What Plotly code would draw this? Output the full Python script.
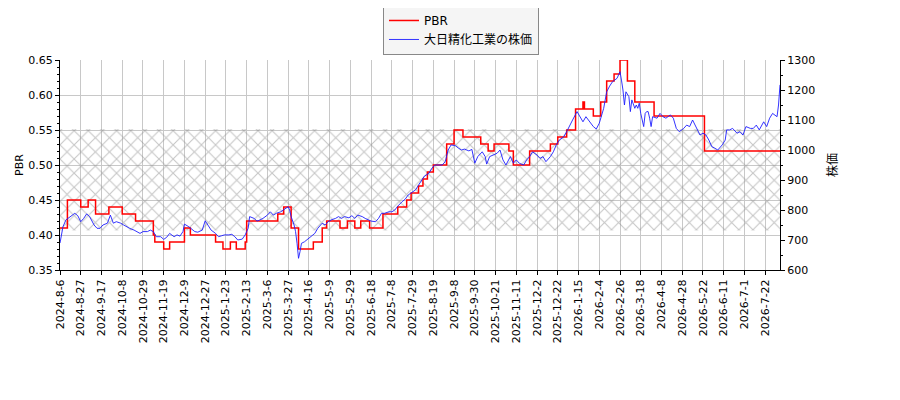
import plotly.graph_objects as go

# x axis is the trading-day index, one tick label every 14 sessions
tick_labels = ["2024-8-6", "2024-8-27", "2024-9-17", "2024-10-8", "2024-10-29", "2024-11-19",
               "2024-12-9", "2024-12-27", "2025-1-23", "2025-2-13", "2025-3-6", "2025-3-27",
               "2025-4-16", "2025-5-9", "2025-5-29", "2025-6-18", "2025-7-8", "2025-7-29",
               "2025-8-19", "2025-9-8", "2025-9-30", "2025-10-21", "2025-11-11", "2025-12-2",
               "2025-12-22", "2026-1-15", "2026-2-4", "2026-2-26", "2026-3-18", "2026-4-8",
               "2026-4-28", "2026-5-22", "2026-6-11", "2026-7-1", "2026-7-22"]
last_idx = 486

# PBR changes (session index where each value starts)
pbr_idx = [0, 5, 14, 19, 24, 33, 42, 51, 63, 64, 70, 74, 84, 88, 105, 110, 115, 119, 125, 126,
           147, 151, 156, 161, 171, 177, 180, 189, 194, 199, 203, 209, 218, 228, 234, 237, 242,
           245, 248, 252, 261, 266, 272, 284, 289, 293, 303, 306, 317, 331, 336, 342, 348, 353,
           354, 360, 365, 369, 374, 378, 383, 388, 401, 435]
pbr_vals = [0.41, 0.45, 0.44, 0.45, 0.43, 0.44, 0.43, 0.42, 0.40, 0.39, 0.38, 0.39, 0.41, 0.40,
            0.39, 0.38, 0.39, 0.38, 0.39, 0.42, 0.43, 0.44, 0.41, 0.38, 0.39, 0.41, 0.42, 0.41,
            0.42, 0.41, 0.42, 0.41, 0.43, 0.44, 0.45, 0.46, 0.47, 0.48, 0.49, 0.50, 0.53, 0.55,
            0.54, 0.53, 0.52, 0.53, 0.52, 0.50, 0.52, 0.53, 0.54, 0.55, 0.58, 0.59, 0.58, 0.57,
            0.59, 0.62, 0.63, 0.65, 0.62, 0.59, 0.57, 0.52]

# stock price
price_idx = [0, 2, 4, 8, 10, 12, 14, 16, 18, 20, 23, 25, 27, 29, 32, 34, 36, 38, 41, 43, 45, 47,
             50, 52, 54, 56, 59, 61, 63, 65, 68, 70, 72, 74, 77, 79, 81, 83, 84, 87, 89, 91, 93,
             96, 98, 100, 102, 105, 107, 109, 111, 114, 116, 118, 120, 123, 125, 127, 128, 131,
             133, 135, 137, 140, 142, 144, 146, 149, 151, 153, 154, 155, 156, 158, 159, 160, 161,
             162, 163, 165, 168, 170, 172, 174, 177, 179, 181, 183, 186, 188, 190, 192, 195, 197,
             199, 201, 204, 206, 208, 210, 213, 215, 217, 219, 222, 224, 226, 228, 231, 233, 235,
             237, 240, 242, 244, 246, 249, 251, 253, 255, 258, 260, 262, 264, 267, 269, 271, 273,
             276, 278, 280, 282, 285, 287, 288, 290, 292, 295, 297, 299, 301, 304, 306, 308, 310,
             313, 315, 317, 319, 322, 324, 326, 328, 331, 333, 335, 337, 340, 342, 344, 346, 349,
             351, 353, 355, 358, 360, 362, 364, 367, 369, 371, 373, 376, 378, 379, 380, 381, 382,
             384, 385, 386, 387, 388, 389, 390, 391, 392, 394, 395, 396, 397, 398, 399, 400, 403,
             405, 407, 409, 412, 414, 416, 418, 421, 423, 425, 427, 428, 430, 432, 434, 436, 438,
             440, 442, 444, 447, 449, 450, 452, 454, 457, 459, 461, 463, 466, 468, 470, 472, 475,
             477, 479, 481, 484, 485, 486]
price_vals = [690, 744, 767, 783, 789, 781, 761, 772, 787, 778, 750, 739, 739, 750, 756, 783, 756,
              761, 756, 750, 744, 739, 733, 728, 722, 728, 728, 733, 728, 711, 711, 702, 709, 722,
              711, 717, 713, 728, 753, 744, 737, 728, 726, 733, 764, 747, 733, 722, 711, 714, 717,
              717, 719, 711, 700, 703, 717, 739, 778, 772, 763, 767, 772, 783, 794, 783, 789, 794,
              800, 806, 811, 800, 778, 750, 728, 689, 639,
              661, 689, 694, 706, 717, 722, 739, 756, 750, 761, 767, 772, 778, 772, 778, 774, 781,
              772, 783, 778, 772, 767, 763, 761, 772, 789, 789, 794, 794, 800, 813, 828, 836, 850,
              856, 867, 883, 900, 913, 922, 939, 950, 950, 950, 961, 1000, 1017, 1014, 1006, 1000,
              1003, 997, 1002, 956, 978, 994, 978, 953, 978, 983, 989, 1000, 967, 950, 978, 956,
              967, 956, 950, 967, 978, 994, 983, 972, 978, 961, 978, 994, 1017, 1033, 1044, 1061,
              1083, 1100, 1128,
              1112, 1094, 1111, 1089, 1078, 1070, 1089, 1139, 1194, 1213, 1228, 1239, 1261, 1233,
              1200, 1150, 1194, 1178, 1128, 1167, 1150, 1139, 1150, 1139, 1156, 1122, 1078, 1122,
              1128, 1128, 1106, 1078, 1111, 1106, 1122, 1111, 1106, 1117, 1106, 1072, 1061, 1072,
              1083, 1078, 1100, 1089, 1067, 1050, 1056, 1050, 1033, 1011, 1006, 1000, 1017, 1033,
              1067, 1067, 1072, 1056, 1061, 1050, 1078, 1072, 1072, 1083, 1067, 1094, 1078, 1106,
              1122, 1111, 1150, 1217]

# hatched PBR band
band_low = 0.4066
band_high = 0.5514

fig = go.Figure()

fig.add_trace(go.Scatter(
    x=[0, last_idx, last_idx, 0, 0], y=[band_low, band_low, band_high, band_high, band_low],
    fill='toself', mode='lines', line=dict(width=0), fillcolor='rgba(0,0,0,0)',
    fillpattern=dict(shape='x', fgcolor='#8c8c8c', bgcolor='rgba(0,0,0,0)', size=10, solidity=0.2),
    showlegend=False, hoverinfo='skip'))

fig.add_trace(go.Scatter(
    x=pbr_idx + [last_idx], y=pbr_vals + [pbr_vals[-1]], mode='lines', line_shape='hv',
    line=dict(color='#ff0000', width=1.5), name='PBR'))

fig.add_trace(go.Scatter(
    x=price_idx, y=price_vals, mode='lines', yaxis='y2',
    line=dict(color='rgba(30,30,255,0.9)', width=1), name='大日精化工業の株価'))

# page body adds an 8px offset, so the figure is 8px smaller and left/top margins shifted
fig.update_layout(
    width=892, height=392,
    margin=dict(l=52, r=120, t=52, b=130, autoexpand=False),
    paper_bgcolor='white', plot_bgcolor='white',
    font=dict(family='DejaVu Sans', size=11, color='black'),
    legend=dict(x=0.4486, y=1.262, xanchor='left', yanchor='top',
                bgcolor='#f5f5f5', bordercolor='#888888', borderwidth=1, tracegroupgap=0,
                font=dict(family='DejaVu Sans, Noto Sans CJK JP', size=12)),
    xaxis=dict(range=[0, last_idx], tickmode='array', tickvals=[i * 14 for i in range(len(tick_labels))],
               ticktext=tick_labels, tickangle=-90, showgrid=True, gridcolor='#c8c8c8', gridwidth=1,
               showline=True, linecolor='black', linewidth=1, ticks='outside', ticklen=4,
               tickcolor='black', zeroline=False, tickfont=dict(size=11)),
    yaxis=dict(range=[0.35, 0.65], dtick=0.05, tickformat='.2f', showgrid=True, gridcolor='#c8c8c8',
               showline=True, linecolor='black', linewidth=1, ticks='outside', ticklen=4,
               tickcolor='black', zeroline=False,
               minor=dict(dtick=0.01, ticklen=2, tickcolor='black', showgrid=False),
               title=dict(text='PBR', font=dict(size=11), standoff=2)),
    yaxis2=dict(range=[600, 1300], dtick=100, overlaying='y', side='right', showgrid=False,
                showline=True, linecolor='black', linewidth=1, ticks='outside', ticklen=4,
                tickcolor='black', zeroline=False,
                minor=dict(dtick=50, ticklen=2, tickcolor='black', showgrid=False),
                title=dict(text='株価', font=dict(family='Noto Sans CJK JP', size=12), standoff=14)),
)

fig.write_html("out.html")
